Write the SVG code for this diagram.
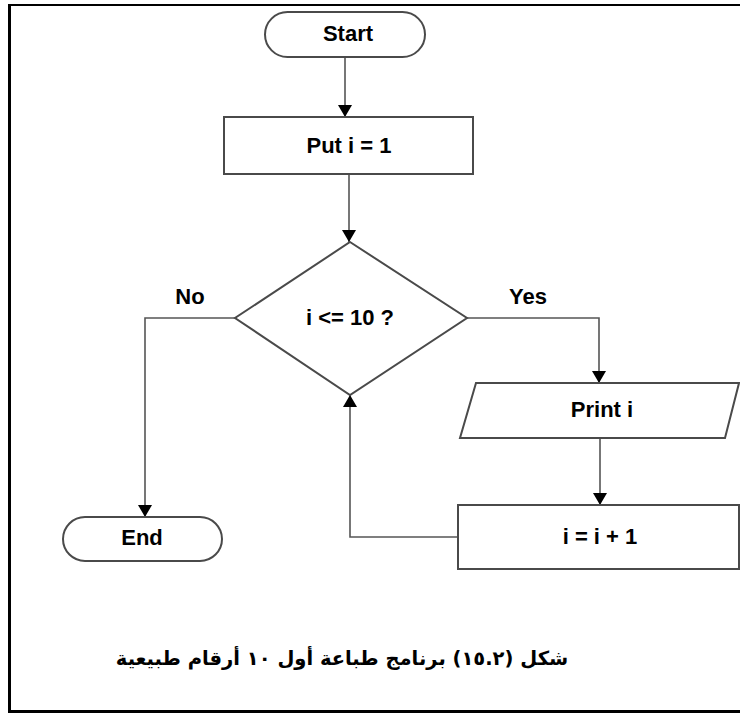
<svg xmlns="http://www.w3.org/2000/svg" width="740" height="713" viewBox="0 0 740 713">
  <style>
    .shape { fill: #ffffff; stroke: #4a4a4a; stroke-width: 2; }
    .conn { fill: none; stroke: #555555; stroke-width: 1.6; }
    .label { font-family: "Liberation Sans", Arial, sans-serif; font-weight: bold; font-size: 22px; fill: #000000; text-anchor: middle; }
    .caption { font-family: "DejaVu Sans", "Liberation Sans", sans-serif; font-weight: bold; font-size: 19.5px; fill: #000000; text-anchor: middle; }
    .frame { stroke: #000000; fill: none; }
  </style>
  <defs>
    <marker id="arrow" viewBox="0 0 12 14" refX="12" refY="7" markerWidth="12" markerHeight="14" markerUnits="userSpaceOnUse" orient="auto">
      <path d="M0,0 L12,7 L0,14 Z" fill="#000000"/>
    </marker>
  </defs>

  <rect width="740" height="713" fill="#ffffff"/>

  <!-- page frame -->
  <g id="frame">
    <line class="frame" x1="9.5" y1="4" x2="9.5" y2="713" stroke-width="3"/>
    <line class="frame" x1="8" y1="5" x2="740" y2="5" stroke-width="2"/>
    <line class="frame" x1="8" y1="711.5" x2="740" y2="711.5" stroke-width="3"/>
  </g>

  <!-- connectors -->
  <g id="connectors">
    <path class="conn" d="M345,57 V117" marker-end="url(#arrow)"/>
    <path class="conn" d="M349,174 V242" marker-end="url(#arrow)"/>
    <path class="conn" d="M235,318 H145 V517" marker-end="url(#arrow)"/>
    <path class="conn" d="M467,318 H599 V383" marker-end="url(#arrow)"/>
    <path class="conn" d="M600,438 V505" marker-end="url(#arrow)"/>
    <path class="conn" d="M458,537 H350 V395" marker-end="url(#arrow)"/>
  </g>

  <g id="label-no"><text class="label" x="190" y="304">No</text></g>
  <g id="label-yes"><text class="label" x="528" y="304">Yes</text></g>

  <g id="start">
    <rect class="shape" x="265" y="12" width="160" height="45" rx="22.5"/>
    <text class="label" x="348" y="41">Start</text>
  </g>

  <g id="put">
    <rect class="shape" x="224" y="117" width="249" height="57"/>
    <text class="label" x="349" y="153">Put i = 1</text>
  </g>

  <g id="decision">
    <polygon class="shape" points="350,242 467,318 350,395 235,318"/>
    <text class="label" x="350" y="325">i &lt;= 10 ?</text>
  </g>

  <g id="print">
    <polygon class="shape" points="476,383 739,383 725,438 460,438"/>
    <text class="label" x="602" y="417">Print i</text>
  </g>

  <g id="increment">
    <rect class="shape" x="458" y="505" width="281" height="64"/>
    <text class="label" x="600" y="544">i = i + 1</text>
  </g>

  <g id="end">
    <rect class="shape" x="63" y="517" width="159" height="44" rx="22"/>
    <text class="label" x="142" y="545">End</text>
  </g>

  <g id="caption">
    <text class="caption" x="342" y="665" direction="rtl">شكل (١٥.٢) برنامج طباعة أول ١٠ أرقام طبيعية</text>
  </g>
</svg>
